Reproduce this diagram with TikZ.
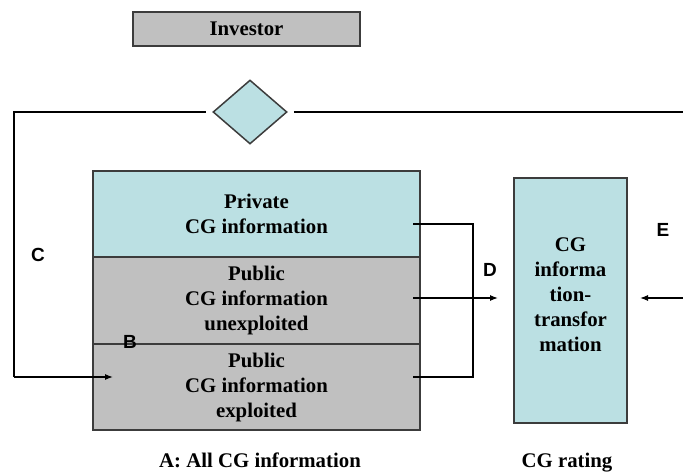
\documentclass[tikz,border=0pt]{standalone}
\usepackage{fontspec}
\setmainfont{Liberation Serif}
\newfontfamily\lblfont{Liberation Sans}
\usetikzlibrary{shapes.geometric,arrows.meta}
\definecolor{cgteal}{RGB}{187,224,227}
\definecolor{cggrey}{RGB}{192,192,192}
\definecolor{cgedge}{RGB}{60,60,60}
\tikzset{
  box/.style={draw=cgedge, line width=1.5pt, inner sep=0pt, align=center,
    font=\fontsize{20.8}{25}\selectfont\bfseries},
  letter/.style={font=\lblfont\fontsize{19}{22}\selectfont\bfseries},
  caption/.style={anchor=base, font=\fontsize{20.8}{25}\selectfont\bfseries},
  wire/.style={line width=1.2pt}
}
\begin{document}
\begin{tikzpicture}[x=1pt, y=-1pt, >={Latex[length=8pt,width=6pt]}]
\useasboundingbox (0,0) rectangle (683,472);
% boxes
\node[box, fill=cggrey, minimum width=227pt, minimum height=34pt] (investor) at (246.5,29) {Investor};
\node[box, diamond, fill=cgteal, minimum width=74pt, minimum height=64pt] (dia) at (250,112) {};
\node[box, fill=cgteal, minimum width=327pt, minimum height=86pt] (private) at (256.5,214) {Private\\CG information};
\node[box, fill=cggrey, minimum width=327pt, minimum height=87pt] (unexpl) at (256.5,300.5) {Public\\CG information\\unexploited};
\node[box, fill=cggrey, minimum width=327pt, minimum height=86pt] (expl) at (256.5,387) {Public\\CG information\\exploited};
\node[box, fill=cgteal, minimum width=113pt, minimum height=245pt] (rating) at (570.5,300.5) {};
\node[box, draw=none] (ratingtxt) at (570.5,295) {CG\\informa\\tion-\\transfor\\mation};
% coordinates for the wires
\coordinate (tl) at (14,112);
\coordinate (tr) at (683,112);
\coordinate (bl) at (14,377);
\coordinate (bin) at (113,377);
\coordinate (p1) at (413,224);
\coordinate (p2) at (473,224);
\coordinate (p3) at (473,377);
\coordinate (p4) at (413,377);
\coordinate (m1) at (413,298);
\coordinate (m2) at (498,298);
\coordinate (e1) at (683,298);
\coordinate (e2) at (640,298);
% wires
\draw[wire, shorten >=6pt] (bl)--(tl)--(dia.west);
\draw[wire, shorten <=6pt] (dia.east)--(tr);
\draw[wire, ->] (bl)--(bin);
\draw[wire] (p1)--(p2)--(p3)--(p4);
\draw[wire, ->] (m1)--(m2);
\draw[wire, ->] (e1)--(e2);
% letters
\node[letter] (lc) at (38,255) {C};
\node[letter] (lb) at (130,342) {B};
\node[letter] (ld) at (490,270) {D};
\node[letter] (le) at (663,230) {E};
\node[caption] (capa) at (260,467) {A: All CG information};
\node[caption] (capb) at (567,467) {CG rating};
\end{tikzpicture}
\end{document}
